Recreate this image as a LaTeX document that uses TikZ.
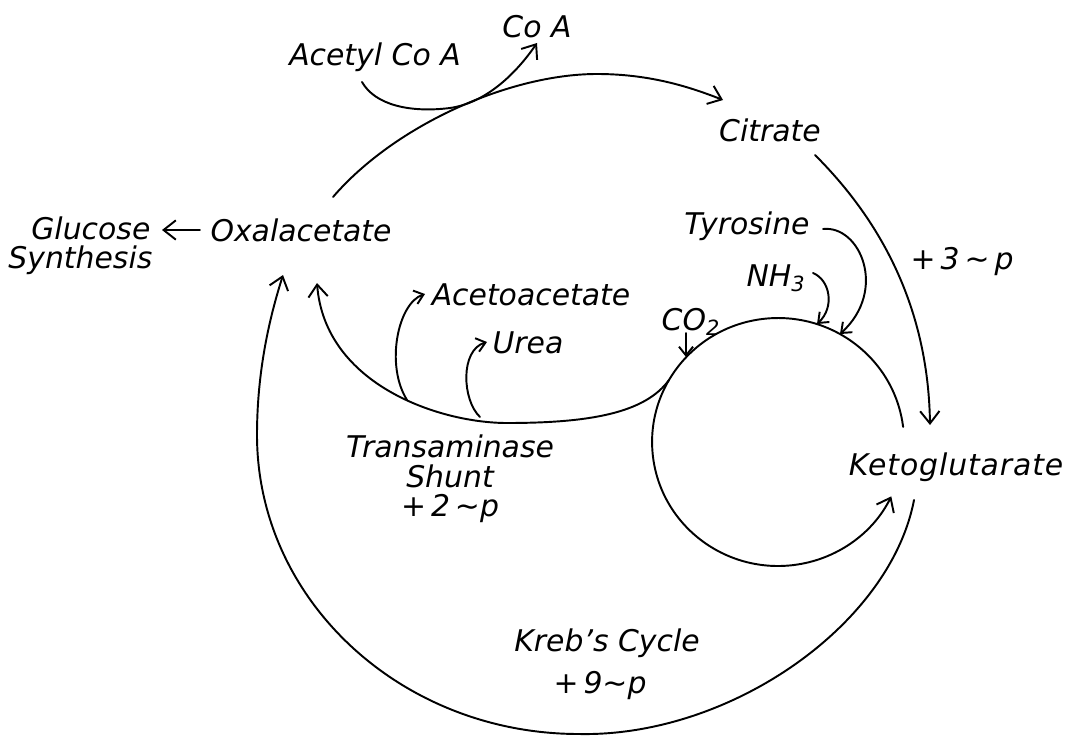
\documentclass[tikz,border=0pt]{standalone}
\usepackage{fontspec}
\setmainfont{DejaVu Sans}
\usetikzlibrary{arrows.meta}
\tikzset{
  lbl/.style={font=\fontsize{17}{20}\selectfont\itshape, inner sep=0pt},
  lbl2/.style={font=\fontsize{17}{16.7}\selectfont\itshape, inner sep=0pt},
  ln/.style={line width=1.1pt, line cap=round},
  arr/.style={ln, -{Straight Barb[length=7pt,width=11pt]}},
  sarr/.style={ln, -{Straight Barb[length=5pt,width=8pt]}},
}
\begin{document}
\begin{tikzpicture}[x=0.02cm,y=0.02cm]
\useasboundingbox (0,0) rectangle (1077,735);
% labels
\node[lbl] (coa)  at (537,708) {Co A};
\node[lbl] (acoa) at (375,678) {Acetyl Co A};
\node[lbl] (cit)  at (770,605) {Citrate};
\node[lbl2, align=left, anchor=west] (glu) at (8,489) {\hspace{0.46cm}Glucose\\Synthesis};
\node[lbl] (oxa)  at (301,505) {Oxalacetate};
\node[lbl] (tyr)  at (747,509) {Tyrosine};
\node[lbl] (p3)   at (962,473) {+\,3\,∼\,p};
\node[lbl] (nh)   at (776,457) {NH\textsubscript{3}};
\node[lbl] (aca)  at (531,440) {Acetoacetate};
\node[lbl] (ure)  at (528,392) {Urea};
\node[lbl] (co)   at (691,413) {CO\textsubscript{2}};
\node[lbl2, align=center] (tra) at (450,256) {Transaminase\\Shunt\\+\,2\,∼p};
\node[lbl] (keto) at (956,268) {\addfontfeatures{LetterSpace=3}Ketoglutarate};
\node[lbl] (kreb) at (607,92)  {Kreb’s Cycle};
\node[lbl] (p9)   at (600,49)  {+\,9∼p};
% coordinates
\coordinate (kst) at (914,235);
\coordinate (kbot) at (579,1);
\coordinate (klft) at (257,300);
\coordinate (kend) at (283,460);
\coordinate (tst) at (333,538);
\coordinate (tpk) at (597,661);
\coordinate (tend) at (723,635);
\coordinate (acs) at (362,653);
\coordinate (acm) at (450,627);
\coordinate (ace) at (537,692);
\coordinate (cis) at (815,580);
\coordinate (cie) at (930,310);
\coordinate (scs) at (903.1,308.1);
\coordinate (shs) at (669,355);
\coordinate (shb) at (507,312);
\coordinate (she) at (317,452);
\coordinate (aas) at (407,335);
\coordinate (aae) at (425,441);
\coordinate (urs) at (480,318);
\coordinate (ure2) at (487,393);
\coordinate (tys) at (823,506);
\coordinate (tye) at (840,401);
\coordinate (nhs) at (813,462);
\coordinate (nhe) at (817,411);
\coordinate (cos) at (686,402);
\coordinate (coe) at (686,378);
\coordinate (gls) at (200,505);
\coordinate (gle) at (162,505);
% Kreb's cycle
\draw[arr] (kst) .. controls (890,110) and (730,-2) .. (kbot)
  .. controls (401,1) and (257,135) .. (klft)
  .. controls (257,370) and (272,425) .. (kend);
% Oxalacetate -> Citrate
\draw[arr] (tst) .. controls (395,610) and (510,661) .. (tpk)
  .. controls (650,661) and (690,648) .. (tend);
% Acetyl CoA -> CoA
\draw[arr] (acs) .. controls (375,630) and (410,622) .. (acm)
  .. controls (485,632) and (515,660) .. (ace);
% Citrate -> Ketoglutarate
\draw[arr] (cis) .. controls (870,525) and (928,440) .. (cie);
% small circle
\draw[arr] (scs) arc[start angle=7,end angle=334,x radius=2.52cm,y radius=2.48cm];
% transaminase shunt
\draw[arr] (shs) .. controls (645,322) and (590,312) .. (shb)
  .. controls (440,312) and (325,350) .. (she);
\draw[sarr] (aas) .. controls (385,370) and (398,432) .. (aae);
\draw[sarr] (urs) .. controls (462,335) and (460,385) .. (ure2);
% inputs to small circle
\draw[sarr] (tys) .. controls (860,510) and (888,445) .. (tye);
\draw[sarr] (nhs) .. controls (830,455) and (835,428) .. (nhe);
\draw[sarr] (cos) -- (coe);
% glucose
\draw[arr] (gls) -- (gle);
\end{tikzpicture}
\end{document}
